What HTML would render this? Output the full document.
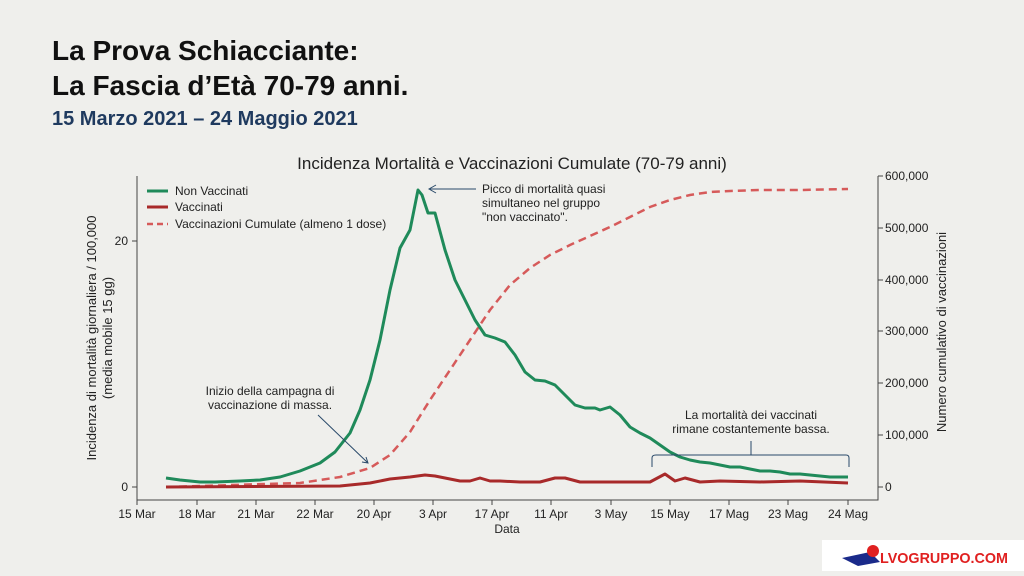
<!DOCTYPE html>
<html><head><meta charset="utf-8"><style>
html,body{margin:0;padding:0;background:#efefec;}
body{width:1024px;height:571px;overflow:hidden;position:relative;font-family:"Liberation Sans",sans-serif;}
</style></head><body>
<svg width="1024" height="571" viewBox="0 0 1024 571" xmlns="http://www.w3.org/2000/svg" font-family="Liberation Sans, sans-serif">
<rect width="1024" height="571" fill="#efefec"/>
<text x="52" y="60" font-size="28" font-weight="bold" fill="#111">La Prova Schiacciante:</text>
<text x="52" y="95" font-size="28" font-weight="bold" fill="#111">La Fascia d’Età 70-79 anni.</text>
<text x="52" y="125" font-size="20" fill="#1f3a5f" font-weight="bold">15 Marzo 2021 – 24 Maggio 2021</text>
<text x="512" y="169" font-size="17" text-anchor="middle" fill="#222">Incidenza Mortalità e Vaccinazioni Cumulate (70-79 anni)</text>
<g stroke="#444" stroke-width="1" fill="none">
<path d="M137,176 V500 H878 V176"/>
<path d="M132,241 H137 M132,487 H137"/>
<path d="M878,176 H883 M878,228 H883 M878,280 H883 M878,331 H883 M878,383 H883 M878,435 H883 M878,487 H883"/>
<path d="M137,500v5 M197,500v5 M256,500v5 M315,500v5 M374,500v5 M433,500v5 M492,500v5 M551,500v5 M611,500v5 M670,500v5 M729,500v5 M788,500v5 M848,500v5"/>
</g>
<g font-size="12" fill="#222">
<text x="128" y="245" text-anchor="end">20</text>
<text x="128" y="491" text-anchor="end">0</text>
<g text-anchor="start">
<text x="885" y="180">600,000</text><text x="885" y="232">500,000</text><text x="885" y="284">400,000</text><text x="885" y="335">300,000</text><text x="885" y="387">200,000</text><text x="885" y="439">100,000</text><text x="885" y="491">0</text>
</g>
<g text-anchor="middle">
<text x="137" y="518">15 Mar</text><text x="197" y="518">18 Mar</text><text x="256" y="518">21 Mar</text><text x="315" y="518">22 Mar</text><text x="374" y="518">20 Apr</text><text x="433" y="518">3 Apr</text><text x="492" y="518">17 Apr</text><text x="551" y="518">11 Apr</text><text x="611" y="518">3 May</text><text x="670" y="518">15 May</text><text x="729" y="518">17 Mag</text><text x="788" y="518">23 Mag</text><text x="848" y="518">24 Mag</text>
</g>
<text x="507" y="533" text-anchor="middle">Data</text>
<text transform="translate(96,338) rotate(-90)" text-anchor="middle" font-size="13">Incidenza di mortalità giornaliera / 100,000</text>
<text transform="translate(112,338) rotate(-90)" text-anchor="middle" font-size="13">(media mobile 15 gg)</text>
<text transform="translate(946,332) rotate(-90)" text-anchor="middle" font-size="13">Numero cumulativo di vaccinazioni</text>
</g>
<polyline fill="none" stroke="#d65a5a" stroke-width="2.5" stroke-dasharray="8,5" points="166,487 300,483 340,477 370,468 390,455 410,432 430,400 450,370 470,340 490,310 510,285 530,268 550,255 570,245 590,236 610,227 630,217 650,207 670,200 690,195 710,192 730,191 760,190 800,190 848,189"/>
<polyline fill="none" stroke="#1f8a5a" stroke-width="3" stroke-linejoin="round" points="166,478 180,480 200,482 215,482 240,481 260,480 280,477 300,471 320,463 335,452 350,433 360,410 370,380 380,340 390,290 400,248 410,230 418,190 422,195 428,213 435,213 445,250 455,280 465,300 475,320 485,335 495,338 505,342 515,355 525,372 535,380 545,381 555,385 565,395 575,405 585,408 595,408 600,410 610,407 620,415 630,427 640,433 650,438 660,445 670,452 680,457 690,460 700,462 710,463 720,465 730,467 740,467 750,469 760,471 770,471 780,472 790,474 800,474 810,475 820,476 830,477 848,477"/>
<polyline fill="none" stroke="#a82a2a" stroke-width="3" stroke-linejoin="round" points="166,487 340,486 370,483 390,479 410,477 425,475 435,476 450,479 460,481 470,481 480,478 490,481 500,481 520,482 540,482 555,478 565,478 580,482 600,482 620,482 650,482 665,474 675,481 685,478 700,482 720,481 760,482 800,481 848,483"/>
<g font-size="12" fill="#222">
<line x1="147" y1="191" x2="168" y2="191" stroke="#1f8a5a" stroke-width="3"/><text x="175" y="195">Non Vaccinati</text>
<line x1="147" y1="207" x2="168" y2="207" stroke="#a82a2a" stroke-width="3"/><text x="175" y="211">Vaccinati</text>
<line x1="147" y1="224" x2="168" y2="224" stroke="#d65a5a" stroke-width="2.5" stroke-dasharray="6,4"/><text x="175" y="228">Vaccinazioni Cumulate (almeno 1 dose)</text>
</g>
<g stroke="#2a4a6a" stroke-width="1" fill="none">
<path d="M476,189 H430 M436,185 L429,189 L436,193"/>
<path d="M318,415 L368,463 M362,462 L368,463 L366,457"/>
<path d="M652,467 V458 Q652,455 656,455 H846 Q849,455 849,458 V467 M751,455 V441"/>
</g>
<g font-size="12" fill="#222">
<text x="482" y="193">Picco di mortalità quasi</text>
<text x="482" y="207">simultaneo nel gruppo</text>
<text x="482" y="221">"non vaccinato".</text>
<text x="270" y="395" text-anchor="middle">Inizio della campagna di</text>
<text x="270" y="409" text-anchor="middle">vaccinazione di massa.</text>
<text x="751" y="419" text-anchor="middle">La mortalità dei vaccinati</text>
<text x="751" y="433" text-anchor="middle">rimane costantemente bassa.</text>
</g>
<rect x="822" y="540" width="202" height="31" fill="#fff"/>
<path d="M842,558 L870,552 L880,562 L858,566 Z" fill="#1a2a8a"/>
<circle cx="873" cy="551" r="6" fill="#e02020"/>
<text x="880" y="563" font-size="15" font-weight="bold" fill="#e02020" textLength="128" lengthAdjust="spacingAndGlyphs">LVOGRUPPO.COM</text>
</svg>
</body></html>
